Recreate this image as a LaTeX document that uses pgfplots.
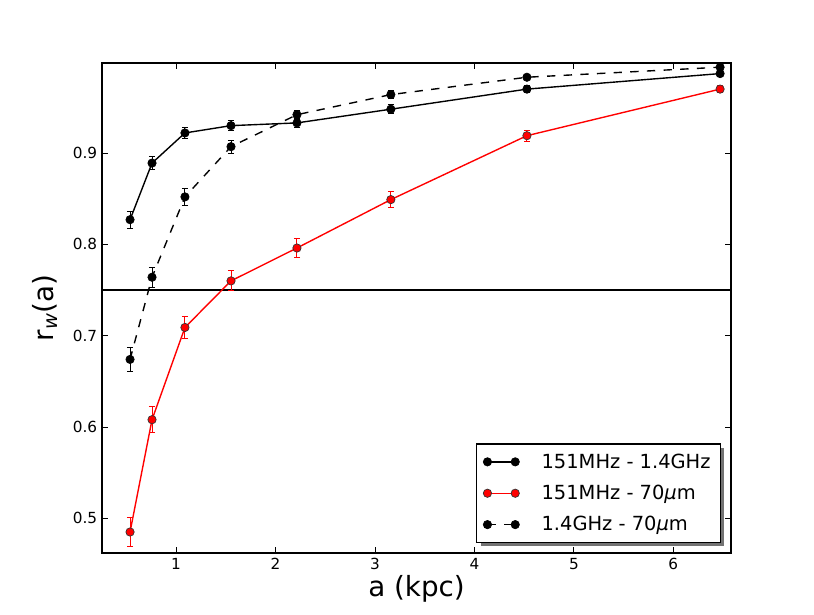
\documentclass[border=0pt]{standalone}
\usepackage{fontspec}
\setmainfont{DejaVu Sans}
\usepackage{pgfplots}
\pgfplotsset{compat=1.18}
\usetikzlibrary{shadows}
\makeatletter
\tikzset{no preaction/.code={\let\tikz@preactions=\pgfutil@empty}}
\makeatother

\pgfplotstableread{
x y e
0.538 0.827 0.0095
0.759 0.889 0.0075
1.09 0.922 0.006
1.553 0.930 0.0055
2.216 0.933 0.005
3.16 0.948 0.005
4.528 0.970 0.004
6.47 0.987 0.003
}\seriesA
\pgfplotstableread{
x y e
0.538 0.485 0.016
0.759 0.608 0.014
1.09 0.709 0.012
1.553 0.760 0.011
2.216 0.796 0.010
3.16 0.849 0.0085
4.528 0.919 0.006
6.47 0.970 0.004
}\seriesB
\pgfplotstableread{
x y e
0.538 0.674 0.013
0.759 0.764 0.011
1.09 0.852 0.009
1.553 0.907 0.007
2.216 0.942 0.005
3.16 0.964 0.004
4.528 0.983 0.003
6.47 0.994 0.003
}\seriesC

\begin{document}
\begin{tikzpicture}
\useasboundingbox (-73.44pt,-43.92pt) rectangle (512.64pt,398.16pt);
\begin{axis}[
  at={(0pt,0pt)}, anchor=south west,
  scale only axis,
  width=452.9pt, height=352.8pt,
  xmin=0.256, xmax=6.58,
  ymin=0.462, ymax=0.9986,
  xtick={1,2,3,4,5,6},
  ytick={0.5,0.6,0.7,0.8,0.9},
  y tick label style={/pgf/number format/fixed, /pgf/number format/fixed zerofill, /pgf/number format/precision=1},
  /pgf/number format/assume math mode=true,
  tick align=inside,
  major tick length=4pt,
  tick style={black, line width=0.6pt},
  axis line style={line width=1pt},
  tick label style={font=\fontsize{11}{13}\selectfont},
  xlabel={a (kpc)},
  ylabel={r\textsubscript{\itshape w}(a)},
  xlabel style={font=\fontsize{20}{24}\selectfont, at={(axis description cs:0.5,-0.0878)}, anchor=base},
  ylabel style={font=\fontsize{20}{24}\selectfont, at={(axis description cs:-0.0906,0.5)}, anchor=center},
  legend style={
    at={(axis description cs:0.984,0.0204)}, anchor=south east,
    font=\fontsize{14}{17}\selectfont,
    draw=black, line width=1pt, fill=white,
    drop shadow={shadow xshift=3pt, shadow yshift=-3pt, fill=black!55, opacity=1},
    inner xsep=5pt, inner ysep=4.8pt, row sep=6.7pt,
    cells={anchor=west},
    /tikz/every odd column/.style={column sep=14pt},
  },
  legend image code/.code={\draw[no preaction,mark repeat=1,#1] plot coordinates {(0pt,0pt) (20pt,0pt)};},
  every axis plot/.append style={line width=1pt},
]
\addplot[black, forget plot, line width=1pt] coordinates {(0.256,0.75) (6.58,0.75)};

\addplot[black, mark=*, mark size=3pt, mark options={solid, fill=black, draw=black, line width=0.5pt},
  error bars/.cd, y dir=both, y explicit, error bar style={solid, line width=0.7pt},
  error mark options={mark size=2.2pt, line width=0.7pt, rotate=90}]
  table[x=x, y=y, y error=e] {\seriesA};
\addlegendentry{151MHz - 1.4GHz}

\addplot[red, mark=*, mark size=3pt, mark options={solid, fill=red, draw=black!80, line width=0.5pt},
  error bars/.cd, y dir=both, y explicit, error bar style={solid, red, line width=0.7pt},
  error mark options={mark size=2.2pt, red, line width=0.7pt, rotate=90}]
  table[x=x, y=y, y error=e] {\seriesB};
\addlegendentry{151MHz - 70{\itshape μ}m}

\addplot[black, dash pattern=on 6pt off 6pt, mark=*, mark size=3pt, mark options={solid, fill=black, draw=black, line width=0.5pt},
  error bars/.cd, y dir=both, y explicit, error bar style={solid, line width=0.7pt},
  error mark options={mark size=2.2pt, line width=0.7pt, rotate=90}]
  table[x=x, y=y, y error=e] {\seriesC};
\addlegendentry{1.4GHz - 70{\itshape μ}m}
\end{axis}
\end{tikzpicture}
\end{document}
